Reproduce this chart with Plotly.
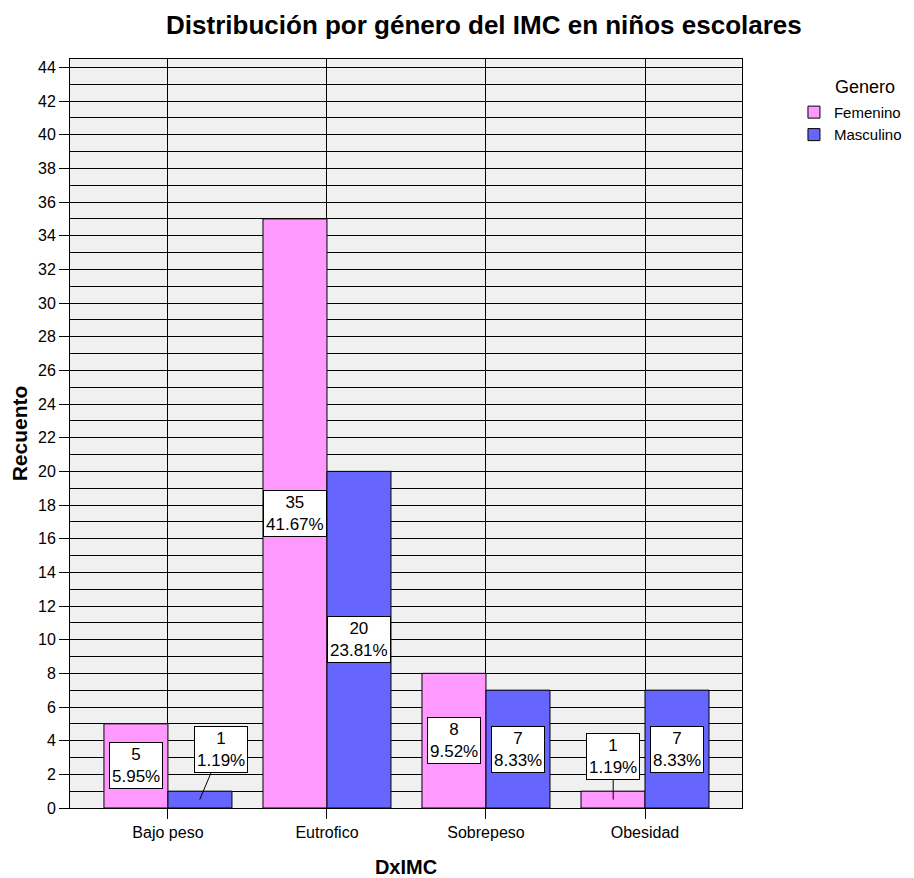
import plotly.graph_objects as go

categories = ["Bajo peso", "Eutrofico", "Sobrepeso", "Obesidad"]
femenino = [5, 35, 8, 1]
masculino = [1, 20, 7, 7]
fem_pct = ["5.95%", "41.67%", "9.52%", "1.19%"]
mas_pct = ["1.19%", "23.81%", "8.33%", "8.33%"]
y_ticks = list(range(0, 46, 2))

pos = list(range(len(categories)))
PINK = "#FF99FF"
BLUE = "#6666FF"
FONT = "Liberation Sans, Arial, sans-serif"

fig = go.Figure()
fig.add_trace(go.Bar(x=pos, y=femenino, name="Femenino", marker=dict(color=PINK, line=dict(color="black", width=1))))
fig.add_trace(go.Bar(x=pos, y=masculino, name="Masculino", marker=dict(color=BLUE, line=dict(color="black", width=1))))

off = 0.2
anns = []
for series, pcts, shift in [(femenino, fem_pct, -off), (masculino, mas_pct, off)]:
    for i, (v, p) in enumerate(zip(series, pcts)):
        txt = f"{v}<br>{p}"
        common = dict(text=txt, bgcolor="white", bordercolor="black", borderwidth=1, borderpad=2,
                      font=dict(family=FONT, size=17, color="black"), xref="x", yref="y")
        if v <= 1:
            ax = 21 if shift > 0 else 0
            anns.append(dict(x=i + shift, y=v / 2, showarrow=True, arrowhead=0, arrowwidth=1,
                             arrowcolor="black", ax=ax, ay=-50 if shift > 0 else -43, **common))
        else:
            anns.append(dict(x=i + shift, y=v / 2, showarrow=False, **common))

# legend title placed as text above the legend items
anns.append(dict(text="Genero", xref="paper", yref="paper", x=1.183, y=0.9626,
                 xanchor="center", yanchor="middle", showarrow=False,
                 font=dict(family=FONT, size=18, color="black")))

fig.update_layout(
    width=906, height=870,
    margin=dict(l=62, r=172, t=51, b=70),
    paper_bgcolor="white",
    plot_bgcolor="#F0F0F0",
    barmode="group",
    bargap=0.195,
    bargroupgap=0,
    font=dict(family=FONT, size=16, color="black"),
    title=dict(text="<b>Distribución por género del IMC en niños escolares</b>",
               x=0.616, xref="paper", xanchor="center", y=0.981, yanchor="middle",
               font=dict(family=FONT, size=26, color="black")),
    annotations=anns,
    showlegend=True,
    legend=dict(xref="container", yref="container", x=0.8675, xanchor="left", y=0.899, yanchor="top",
                font=dict(size=15, family=FONT), itemwidth=30, tracegroupgap=0,
                bgcolor="rgba(0,0,0,0)"),
    xaxis=dict(
        tickmode="array", tickvals=pos, ticktext=categories,
        range=[-0.616, 3.61], automargin=False,
        showgrid=True, gridcolor="black", gridwidth=1,
        ticks="outside", ticklen=10, tickcolor="black",
        showline=True, linecolor="black", linewidth=1, mirror=True,
        zeroline=False,
        title=dict(text="<b>DxIMC</b>", font=dict(size=20, family=FONT), standoff=22),
        tickfont=dict(size=16),
    ),
    yaxis=dict(
        tickmode="array", tickvals=y_ticks,
        range=[0, 44.5], automargin=False,
        showgrid=True, gridcolor="black", gridwidth=1,
        minor=dict(dtick=1, tick0=0, showgrid=True, gridcolor="black", gridwidth=1),
        ticks="outside", ticklen=10, tickcolor="black",
        showline=True, linecolor="black", linewidth=1, mirror=True,
        zeroline=False,
        title=dict(text="<b>Recuento</b>", font=dict(size=21, family=FONT), standoff=4),
        tickfont=dict(size=16),
    ),
)

fig.write_html("out.html")
